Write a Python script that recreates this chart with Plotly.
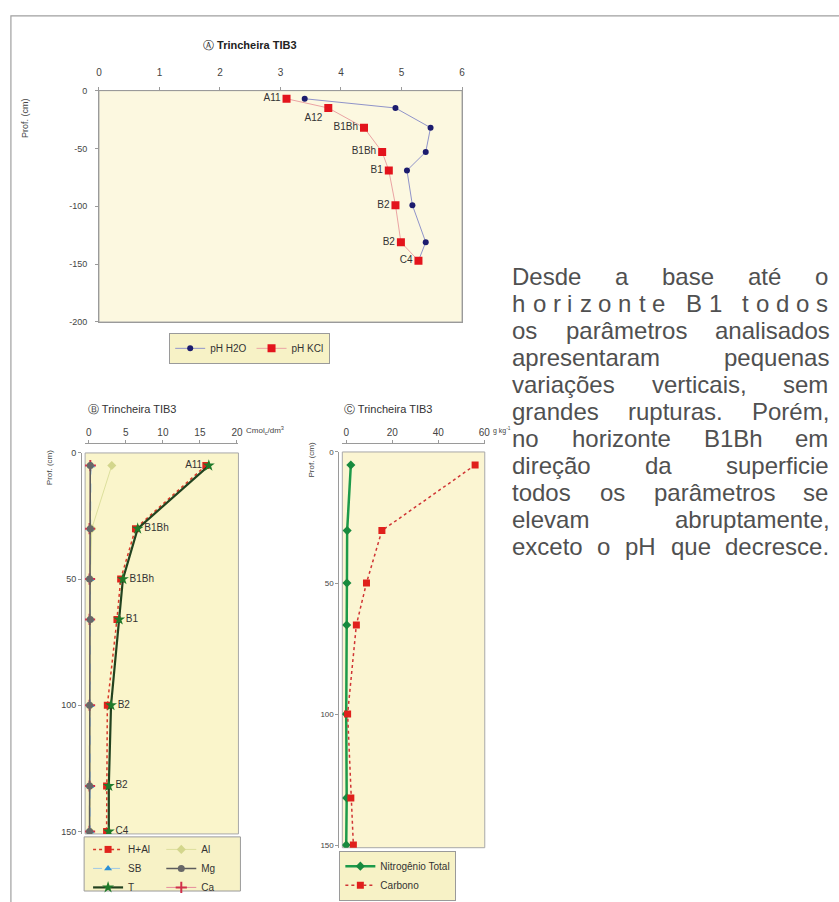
import plotly.graph_objects as go

W, H = 839, 902
FONT = "Liberation Sans, Arial, sans-serif"

# ---------------- data ----------------
# Panel A (pH)
depth_a = [-7, -15, -32, -53, -69, -99, -131, -147]
ph_h2o = [3.40, 4.90, 5.48, 5.40, 5.09, 5.18, 5.40, 5.28]
ph_kcl = [3.10, 3.79, 4.38, 4.68, 4.79, 4.90, 4.99, 5.28]
horiz_a = ["A11", "A12", "B1Bh", "B1Bh", "B1", "B2", "B2", "C4"]
ticks_ax = [0, 1, 2, 3, 4, 5, 6]
ticks_ay = [0, -50, -100, -150, -200]

# Panel B (cmolc/dm3)
depth_b = [5, 30, 50, 66, 100, 132, 150]
horiz_b = ["A11", "B1Bh", "B1Bh", "B1", "B2", "B2", "C4"]
h_al = [15.8, 6.3, 4.3, 3.8, 2.5, 2.4, 2.4]
al = [3.1, 0.4, 0.2, 0.2, 0.2, 0.2, 0.2]
sb = [0.3, 0.2, 0.2, 0.2, 0.2, 0.2, 0.2]
mg = [0.2, 0.2, 0.1, 0.2, 0.1, 0.1, 0.1]
t_val = [16.2, 6.6, 4.6, 4.1, 3.0, 2.7, 2.7]
ca = [0.2, 0.1, 0.1, 0.1, 0.1, 0.1, 0.1]
ticks_bx = [0, 5, 10, 15, 20]
ticks_by = [0, 50, 100, 150]

# Panel C (g/kg)
depth_c = [5, 30, 50, 66, 100, 132, 150]
nitrog = [2.0, 0.4, 0.3, 0.2, 0.0, 0.2, 0.0]
carbono = [56.0, 15.5, 8.8, 4.4, 0.6, 2.0, 3.1]
ticks_cx = [0, 20, 40, 60]
ticks_cy = [0, 50, 100, 150]

text_lines = [
    "Desde a base até o",
    "horizonte B1 todos",
    "os parâmetros analisados",
    "apresentaram pequenas",
    "variações verticais, sem",
    "grandes rupturas. Porém,",
    "no horizonte B1Bh em",
    "direção da superficie",
    "todos os parâmetros se",
    "elevam abruptamente,",
    "exceto o pH que decresce.",
]


def px(x):
    return x / W


def py(y):
    return 1 - y / H


fig = go.Figure()

# ---------------- Panel A ----------------
fig.add_trace(go.Scatter(
    x=ph_h2o, y=depth_a, mode="lines+markers", name="pH H2O",
    line=dict(color="#8f93c9", width=1),
    marker=dict(symbol="circle", size=6, color="#1c1c6e"),
    xaxis="x", yaxis="y", legend="legend"))
pos_a = ["middle left", "bottom left"] + ["middle left"] * 6
fig.add_trace(go.Scatter(
    x=ph_kcl, y=depth_a, mode="lines+markers+text", name="pH KCl",
    text=horiz_a, textposition=pos_a,
    textfont=dict(size=10, color="#333333", family=FONT),
    line=dict(color="#eaa3a3", width=1),
    marker=dict(symbol="square", size=8, color="#e3141c"),
    xaxis="x", yaxis="y", legend="legend"))

# ---------------- Panel B ----------------
fig.add_trace(go.Scatter(
    x=al, y=depth_b, mode="lines+markers", name="Al",
    line=dict(color="#dcdf9c", width=1),
    marker=dict(symbol="diamond", size=7, color="#d3d68c"),
    xaxis="x2", yaxis="y2", legend="legend3", legendrank=1))
fig.add_trace(go.Scatter(
    x=ca, y=depth_b, mode="lines+markers", name="Ca",
    line=dict(color="#e58c9c", width=1),
    marker=dict(symbol="cross-thin", size=8, color="#d0304a",
                line=dict(color="#d0304a", width=2)),
    xaxis="x2", yaxis="y2", legend="legend3", legendrank=3))
fig.add_trace(go.Scatter(
    x=sb, y=depth_b, mode="lines+markers", name="SB",
    line=dict(color="#9fc8e6", width=1, dash="dash"),
    marker=dict(symbol="triangle-up", size=7, color="#2a8fd6"),
    xaxis="x2", yaxis="y2", legend="legend2", legendrank=2))
fig.add_trace(go.Scatter(
    x=mg, y=depth_b, mode="lines+markers", name="Mg",
    line=dict(color="#5d5d5d", width=1.5),
    marker=dict(symbol="circle", size=7, color="#676767"),
    xaxis="x2", yaxis="y2", legend="legend3", legendrank=2))
fig.add_trace(go.Scatter(
    x=h_al, y=depth_b, mode="lines+markers", name="H+Al",
    line=dict(color="#d83a2a", width=1.5, dash="dot"),
    marker=dict(symbol="square", size=7, color="#e0231c"),
    xaxis="x2", yaxis="y2", legend="legend2", legendrank=1))
pos_b = ["middle left"] + ["middle right"] * 6
fig.add_trace(go.Scatter(
    x=t_val, y=depth_b, mode="lines+markers+text", name="T",
    text=horiz_b, textposition=pos_b,
    textfont=dict(size=10, color="#333333", family=FONT),
    line=dict(color="#22421f", width=2.2),
    marker=dict(symbol="star", size=9, color="#1f7a2a"),
    xaxis="x2", yaxis="y2", legend="legend2", legendrank=3))

# ---------------- Panel C ----------------
fig.add_trace(go.Scatter(
    x=nitrog, y=depth_c, mode="lines+markers", name="Nitrogênio Total",
    line=dict(color="#1c9a4a", width=2.5),
    marker=dict(symbol="diamond", size=7, color="#178a3e"),
    xaxis="x3", yaxis="y3", legend="legend4"))
fig.add_trace(go.Scatter(
    x=carbono, y=depth_c, mode="lines+markers", name="Carbono",
    line=dict(color="#d03434", width=1.5, dash="dot"),
    marker=dict(symbol="square", size=7, color="#e0201c"),
    xaxis="x3", yaxis="y3", legend="legend4"))

# ---------------- axes ----------------
tickfont = dict(size=10, color="#444444", family=FONT)
common = dict(showgrid=False, zeroline=False, showline=True, linecolor="#9a9a9a",
              ticks="outside", ticklen=3, tickcolor="#9a9a9a", tickfont=tickfont)

A_L, A_R, A_T, A_B = 97, 464, 87, 322
B_L, B_R, B_T, B_B = 83, 238, 455, 842
C_L, C_R, C_T, C_B = 343, 487, 454, 856

fig.update_layout(
    xaxis=dict(domain=[px(A_L), px(A_R)], range=[0, 6], side="top", anchor="y",
               mirror=True, tickvals=ticks_ax, ticktext=[str(v) for v in ticks_ax],
               ticklabelstandoff=7, **common),
    yaxis=dict(domain=[py(A_B), py(A_T)], range=[-200, 0], anchor="x", mirror=True,
               tickvals=ticks_ay, ticktext=[str(v) for v in ticks_ay],
               ticklabelstandoff=6, **{**common, "tickfont": dict(size=9, color="#444", family=FONT)}),
    xaxis2=dict(domain=[px(B_L), px(B_R)], range=[-0.5, 20.2], side="top", anchor="free",
                position=py(445), tickvals=ticks_bx, ticktext=[str(v) for v in ticks_bx],
                **common),
    yaxis2=dict(domain=[py(B_B), py(B_T)], range=[151, 0], anchor="free", position=px(79),
                tickvals=ticks_by, ticktext=[str(v) for v in ticks_by],
                **{**common, "tickfont": dict(size=9, color="#444", family=FONT)}),
    xaxis3=dict(domain=[px(C_L), px(C_R)], range=[-1.7, 60.2], side="top", anchor="free",
                position=py(445), tickvals=ticks_cx, ticktext=[str(v) for v in ticks_cx],
                **common),
    yaxis3=dict(domain=[py(C_B), py(C_T)], range=[151, 0], anchor="free", position=px(339),
                tickvals=ticks_cy, ticktext=[str(v) for v in ticks_cy],
                **{**common, "tickfont": dict(size=8, color="#444", family=FONT)}),
)

# ---------------- shapes ----------------
shapes = [
    # outer frame
    dict(type="rect", xref="paper", yref="paper", x0=px(8), x1=1.02, y0=-0.02, y1=py(11),
         line=dict(color="#a0a0a0", width=1.2), fillcolor="rgba(0,0,0,0)", layer="below"),
    dict(type="rect", xref="x domain", yref="y domain", x0=0, x1=1, y0=0, y1=1,
         line=dict(color="#a8a8a8", width=1), fillcolor="#fcf8e0", layer="below"),
    dict(type="rect", xref="x2 domain", yref="y2 domain", x0=0, x1=1, y0=0, y1=1,
         line=dict(color="#a8a8a8", width=1), fillcolor="#faf5cb", layer="below"),
    dict(type="rect", xref="x3 domain", yref="y3 domain", x0=0, x1=1, y0=0, y1=1,
         line=dict(color="#a8a8a8", width=1), fillcolor="#fbf5d2", layer="below"),
    # legend B box (two columns)
    dict(type="rect", xref="paper", yref="paper", x0=px(82), x1=px(240), y0=py(900), y1=py(845),
         line=dict(color="#9a9a9a", width=1), fillcolor="#f7f2c6", layer="below"),
]

# ---------------- annotations ----------------
ann = []


def add_text(x, y, txt, size=10, color="#333333", xanchor="center", angle=0):
    ann.append(dict(x=px(x), y=py(y), xref="paper", yref="paper", text=txt, showarrow=False,
                    xanchor=xanchor, yanchor="middle", textangle=angle,
                    font=dict(size=size, color=color, family=FONT)))


add_text(250, 41, "Ⓐ <b>Trincheira TIB3</b>", size=11, color="#222222")
add_text(84, 410, "Ⓑ Trincheira TIB3", size=11, color="#333333", xanchor="left")
add_text(343, 410, "Ⓒ Trincheira TIB3", size=11, color="#333333", xanchor="left")
add_text(22, 115, "Prof. (cm)", size=9, color="#444444", angle=-90)
add_text(47, 470, "Prof. (cm)", size=8, color="#444444", angle=-90)
add_text(312, 462, "Prof. (cm)", size=8, color="#444444", angle=-90)
add_text(244, 432, "Cmol<sub>c</sub>/dm<sup>3</sup>", size=8, color="#444444", xanchor="left")
add_text(493, 432, "g kg<sup>-1</sup>", size=7, color="#444444", xanchor="left")

# justified paragraph on the right
AW = {' ': 278, ',': 278, '.': 278, '-': 333,
      'A': 667, 'B': 667, 'C': 722, 'D': 722, 'E': 667, 'H': 722, 'P': 667,
      'a': 556, 'b': 556, 'c': 500, 'd': 556, 'e': 556, 'f': 278, 'g': 556, 'h': 556,
      'i': 222, 'j': 222, 'k': 500, 'l': 222, 'm': 833, 'n': 556, 'o': 556, 'p': 556,
      'q': 556, 'r': 333, 's': 500, 't': 278, 'u': 556, 'v': 500, 'w': 722, 'x': 500,
      'y': 500, 'z': 500, 'á': 556, 'â': 556, 'ã': 556, 'é': 556, 'ê': 556, 'í': 278,
      'ó': 556, 'õ': 556, 'ç': 500, '1': 556}
FS = 24
TX_L, TX_R = 514, 833
LINE0, PITCH = 276, 27.4


def tw(s):
    return sum(AW.get(ch, 556) for ch in s) * FS / 1000.0


for i, line in enumerate(text_lines):
    yy = LINE0 + i * PITCH
    if i == 1:
        tokens, gaps = [], []
        words = line.split(" ")
        for wi, wd in enumerate(words):
            for ci, ch in enumerate(wd):
                tokens.append(ch)
                if ci < len(wd) - 1:
                    gaps.append(1.0)
            if wi < len(words) - 1:
                gaps.append(3.0)
    else:
        tokens = line.split(" ")
        gaps = [1.0] * (len(tokens) - 1)
    widths = [tw(t) for t in tokens]
    unit = (TX_R - TX_L - sum(widths)) / sum(gaps)
    x = TX_L
    for k, tok in enumerate(tokens):
        ann.append(dict(x=px(x), y=py(yy), xref="paper", yref="paper", text=tok,
                        showarrow=False, xanchor="left", yanchor="middle", borderpad=0,
                        font=dict(size=FS, color="#505050", family=FONT)))
        x += widths[k]
        if k < len(gaps):
            x += gaps[k] * unit

legend_common = dict(font=dict(size=10, color="#333333", family=FONT), xanchor="left",
                     yanchor="top", itemclick=False)
fig.update_layout(
    width=W, height=H, margin=dict(l=0, r=0, t=0, b=0),
    paper_bgcolor="white", plot_bgcolor="rgba(0,0,0,0)",
    font=dict(family=FONT),
    shapes=shapes, annotations=ann,
    showlegend=True,
    legend=dict(x=px(168), y=py(333), orientation="h", bgcolor="#f7f2c6",
                bordercolor="#9a9a9a", borderwidth=1, **legend_common),
    legend2=dict(x=px(86), y=py(843), bgcolor="rgba(0,0,0,0)", borderwidth=0,
                 tracegroupgap=0, **legend_common),
    legend3=dict(x=px(160), y=py(843), bgcolor="rgba(0,0,0,0)", borderwidth=0,
                 tracegroupgap=0, **legend_common),
    legend4=dict(x=px(340), y=py(859), bgcolor="#f7f2c6", bordercolor="#9a9a9a",
                 borderwidth=1, **legend_common),
)

fig.write_html("out.html", config={"displayModeBar": False},
               post_script="document.body.style.margin='0px';")
